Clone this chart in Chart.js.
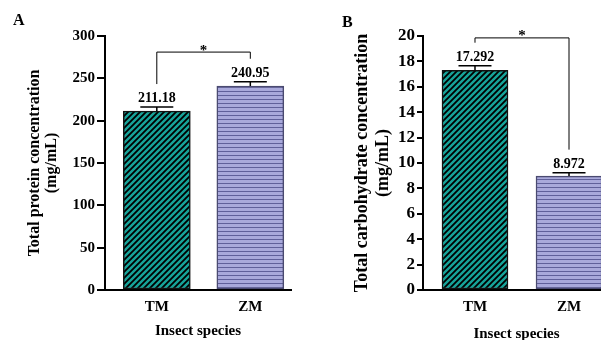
<!DOCTYPE html>
<html lang="en">
<head>
  <meta charset="UTF-8">
  <title>Protein and carbohydrate concentration</title>
  <script src="https://cdn.jsdelivr.net/npm/chart.js"></script>
  <style>
    body { margin: 0; width: 601px; height: 340px; overflow: hidden; position: relative; background: #fff; }
    .panel { position: absolute; top: 0; height: 340px; }
    #wrapA { left: 0; width: 300px; }
    #wrapB { left: 300px; width: 320px; }
    .tag { position: absolute; font: bold 16px "Liberation Serif", serif; color: #000; }
  </style>
</head>
<body>

  <div class="panel" id="wrapA"><canvas id="chartA" width="300" height="340"></canvas></div>
  <div class="panel" id="wrapB"><canvas id="chartB" width="320" height="340"></canvas></div>
  <div class="tag" style="left:13px;top:11px">A</div>
  <div class="tag" style="left:342px;top:13px">B</div>

  <script>
    const species = ['TM', 'ZM'];
    const proteinMean = [211.18, 240.95];
    const proteinErr = [4.9, 5.0];
    const carbMean = [17.292, 8.972];
    const carbErr = [0.37, 0.27];
    const proteinAxis = { max: 300, step: 50 };
    const carbAxis = { max: 20, step: 2 };

    const FONT = '"Liberation Serif", serif';

    function diagPattern() {
      const c = document.createElement('canvas');
      c.width = 6; c.height = 6;
      const g = c.getContext('2d');
      g.fillStyle = '#16a399';
      g.fillRect(0, 0, 6, 6);
      g.strokeStyle = '#000';
      g.lineWidth = 1.8;
      g.beginPath();
      [0, 6, 12].forEach(k => { g.moveTo(k + 1, -1); g.lineTo(k - 7, 7); });
      g.stroke();
      return g.createPattern(c, 'repeat');
    }

    function hPattern() {
      const c = document.createElement('canvas');
      c.width = 4; c.height = 4;
      const g = c.getContext('2d');
      g.fillStyle = '#a9a9db';
      g.fillRect(0, 0, 4, 4);
      g.fillStyle = '#60609a';
      g.fillRect(0, 3, 4, 1);
      return g.createPattern(c, 'repeat');
    }

    // error bars, value labels and significance bracket
    const extras = {
      id: 'extras',
      afterDatasetsDraw(chart, args, o) {
        const { ctx, scales: { x, y } } = chart;
        ctx.save();
        ctx.strokeStyle = '#000';
        ctx.fillStyle = '#000';
        ctx.lineWidth = 1.5;
        const caps = [];
        o.means.forEach((m, i) => {
          const cx = x.getPixelForValue(i);
          const base = y.getPixelForValue(m);
          const top = y.getPixelForValue(m + o.errs[i]);
          caps.push(top);
          ctx.beginPath();
          ctx.moveTo(cx, base); ctx.lineTo(cx, top);
          ctx.moveTo(cx - 16.5, top); ctx.lineTo(cx + 16.5, top);
          ctx.stroke();
          ctx.font = 'bold 14px ' + FONT;
          ctx.textAlign = 'center';
          ctx.textBaseline = 'alphabetic';
          ctx.fillText(m.toFixed(o.decimals), cx, top - 5);
        });
        const yb = y.getPixelForValue(o.bracket);
        const x0 = x.getPixelForValue(0), x1 = x.getPixelForValue(1);
        ctx.lineWidth = 1;
        ctx.beginPath();
        ctx.moveTo(x0, caps[0] - 23); ctx.lineTo(x0, yb);
        ctx.lineTo(x1, yb); ctx.lineTo(x1, caps[1] - 23);
        ctx.stroke();
        ctx.font = 'bold 15px ' + FONT;
        ctx.fillText('*', (x0 + x1) / 2, yb + 2.5);
        ctx.restore();
      }
    };

    function makeChart(id, means, errs, axis, title, o) {
      const ctx = document.getElementById(id).getContext('2d');
      return new Chart(ctx, {
        type: 'bar',
        data: {
          datasets: [{
            data: means.map((v, i) => ({ x: i, y: v })),
            backgroundColor: [diagPattern(), hPattern()],
            borderColor: ['#111', '#4a4a70'],
            borderWidth: 1.5,
            borderSkipped: false,
            barThickness: o.barW
          }]
        },
        options: {
          responsive: false,
          animation: false,
          layout: { padding: { left: 0, right: o.padRight, top: 36, bottom: 0 } },
          plugins: {
            legend: { display: false },
            tooltip: { enabled: false },
            extras: { means: means, errs: errs, decimals: o.decimals, bracket: o.bracket }
          },
          scales: {
            x: {
              type: 'linear',
              offset: false,
              min: o.xMin,
              max: o.xMax,
              afterBuildTicks: s => { s.ticks = species.map((_, i) => ({ value: i })); },
              afterFit: s => { s.height = 50; },
              grid: { display: false, offset: false },
              border: { display: true, color: '#000', width: 2 },
              ticks: {
                color: '#000',
                padding: 0,
                font: { family: FONT, size: 15, weight: 'bold' },
                callback: v => species[v]
              },
              title: {
                display: true,
                text: 'Insect species',
                color: '#000',
                padding: { top: 0, bottom: 0 },
                font: { family: FONT, size: 15, weight: 'bold', lineHeight: o.xTitleLH }
              }
            },
            y: {
              min: 0,
              max: axis.max,
              afterFit: s => { s.width = o.yWidth; },
              grid: { drawOnChartArea: false, drawTicks: true, tickLength: o.tickLen, color: '#000', lineWidth: 2 },
              border: { display: true, color: '#000', width: 2 },
              ticks: {
                stepSize: axis.step,
                color: '#000',
                padding: 2,
                font: { family: FONT, size: o.tickSize, weight: 'bold' }
              },
              title: {
                display: true,
                text: [title, '(mg/mL)'],
                color: '#000',
                padding: { top: o.yTitlePad, bottom: 0 },
                font: { family: FONT, size: o.yTitleSize, weight: 'bold', lineHeight: o.yTitleLH }
              }
            }
          }
        },
        plugins: [extras]
      });
    }

    makeChart('chartA', proteinMean, proteinErr, proteinAxis, 'Total protein concentration', {
      barW: 67, padRight: 9, yWidth: 105, xMin: -0.554, xMax: 1.435,
      tickLen: 8, tickSize: 15, yTitleSize: 16, yTitleLH: '17px',
      yTitlePad: 26.5, xTitleLH: '18px', decimals: 2, bracket: 281
    });

    makeChart('chartB', carbMean, carbErr, carbAxis, 'Total carbohydrate concentration', {
      barW: 66, padRight: 10, yWidth: 123, xMin: -0.553, xMax: 1.436,
      tickLen: 6, tickSize: 17, yTitleSize: 18, yTitleLH: '21px',
      yTitlePad: 51.5, xTitleLH: '12px', decimals: 3, bracket: 19.85
    });
  </script>

</body>
</html>
